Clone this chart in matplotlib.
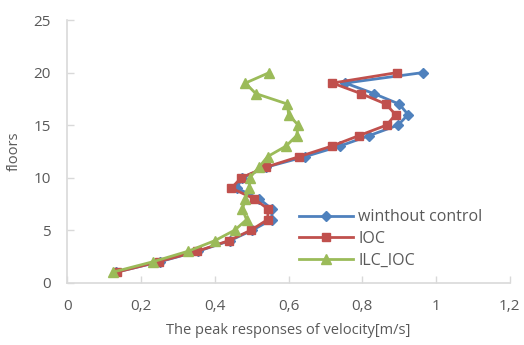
import matplotlib.pyplot as plt
from matplotlib.ticker import FuncFormatter

# floors 1..20
floors = list(range(1, 21))
without_control = [0.132, 0.251, 0.355, 0.441, 0.502, 0.554, 0.555, 0.520, 0.459, 0.475,
                   0.540, 0.645, 0.739, 0.819, 0.897, 0.924, 0.900, 0.831, 0.754, 0.965]
ioc = [0.134, 0.248, 0.353, 0.438, 0.498, 0.543, 0.545, 0.506, 0.445, 0.472,
       0.539, 0.629, 0.717, 0.791, 0.866, 0.890, 0.864, 0.796, 0.719, 0.895]
ilc_ioc = [0.123, 0.233, 0.328, 0.400, 0.454, 0.486, 0.475, 0.483, 0.493, 0.495,
           0.520, 0.543, 0.593, 0.622, 0.626, 0.600, 0.597, 0.511, 0.483, 0.548]

xticks = [0, 0.2, 0.4, 0.6, 0.8, 1.0, 1.2]
yticks = [0, 5, 10, 15, 20, 25]

plt.rcParams['font.family'] = ['Open Sans', 'DejaVu Sans']
text_color = "#595959"
axis_color = "#D9D9D9"

fig = plt.figure(figsize=(5.24, 3.45), dpi=100)
ax = fig.add_axes([0.1284, 0.1806, 0.8446, 0.7614])

ax.plot(without_control, floors, color="#4F81BD", lw=2, marker="D", ms=5.5,
        label="winthout control")
ax.plot(ioc, floors, color="#C0504D", lw=2, marker="s", ms=6, label="IOC")
ax.plot(ilc_ioc, floors, color="#9BBB59", lw=2, marker="^", ms=7.5, label="ILC_IOC")

ax.set_xlim(0, 1.2)
ax.set_ylim(0, 25)
ax.set_xticks(xticks)
ax.set_yticks(yticks)

def comma_fmt(v, pos):
    if abs(v - round(v)) < 1e-9:
        return f"{int(round(v))}"
    return f"{v:.1f}".replace(".", ",")

ax.xaxis.set_major_formatter(FuncFormatter(comma_fmt))

for side in ["top", "right"]:
    ax.spines[side].set_visible(False)
for side in ["left", "bottom"]:
    ax.spines[side].set_color(axis_color)
    ax.spines[side].set_linewidth(1.2)

ax.tick_params(axis="both", direction="in", length=5, width=1, color=axis_color,
               labelcolor=text_color, labelsize=11)
ax.tick_params(axis="x", pad=12)
ax.tick_params(axis="y", pad=12)

ax.set_xlabel("The peak responses of velocity[m/s]", color=text_color, fontsize=10.5,
              labelpad=6)
ax.set_ylabel("floors", color=text_color, fontsize=10.5, labelpad=8)

ax.legend(loc="lower right", bbox_to_anchor=(0.985, -0.025), frameon=False, fontsize=11.5,
          labelcolor=text_color, handlelength=3.4, handletextpad=0.3,
          labelspacing=0.35, borderaxespad=0.9)

fig.savefig("out.png", dpi=100)
